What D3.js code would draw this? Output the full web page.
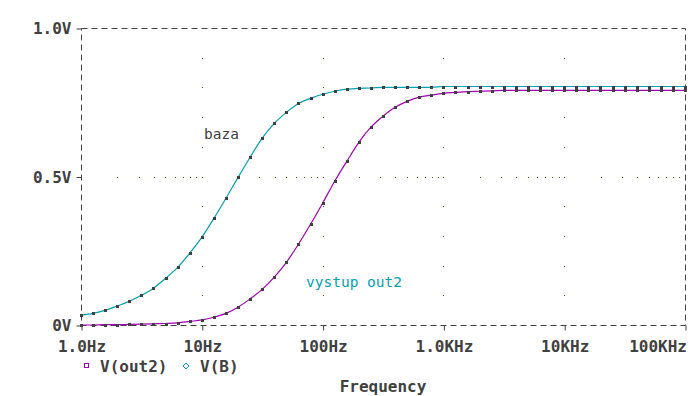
<!DOCTYPE html>
<html>
<head>
<meta charset="utf-8">
<script src="https://cdn.jsdelivr.net/npm/d3@7"></script>
<style>
body { margin: 0; background: #ffffff; }
svg { display: block; }
</style>
</head>
<body>
<script>
// frequency points (Hz), 10 per decade
var freqs = [1, 1.259, 1.585, 1.995, 2.512, 3.162, 3.981, 5.012, 6.310, 7.943,
  10, 12.59, 15.85, 19.95, 25.12, 31.62, 39.81, 50.12, 63.10, 79.43,
  100, 125.9, 158.5, 199.5, 251.2, 316.2, 398.1, 501.2, 631.0, 794.3,
  1000, 1259, 1585, 1995, 2512, 3162, 3981, 5012, 6310, 7943,
  10000, 12590, 15850, 19950, 25120, 31620, 39810, 50120, 63100, 79430,
  100000];

// V(B) - "baza"
var vB = [0.033, 0.039, 0.049, 0.064, 0.080, 0.100, 0.124, 0.157, 0.194, 0.242,
  0.295, 0.359, 0.427, 0.497, 0.565, 0.629, 0.679, 0.716, 0.746, 0.763,
  0.777, 0.787, 0.794, 0.797, 0.798, 0.800, 0.800, 0.800, 0.800, 0.800,
  0.803, 0.803, 0.803, 0.803, 0.803, 0.803, 0.803, 0.803, 0.803, 0.803,
  0.803, 0.803, 0.803, 0.803, 0.803, 0.803, 0.803, 0.803, 0.803, 0.803,
  0.803];

// V(out2) - "vystup out2"
var vOut2 = [0.000, 0.000, 0.001, 0.001, 0.002, 0.003, 0.004, 0.005, 0.007, 0.012,
  0.017, 0.026, 0.039, 0.060, 0.088, 0.120, 0.161, 0.211, 0.272, 0.339,
  0.410, 0.484, 0.551, 0.615, 0.666, 0.703, 0.733, 0.753, 0.767, 0.774,
  0.780, 0.783, 0.786, 0.787, 0.788, 0.790, 0.790, 0.790, 0.790, 0.790,
  0.790, 0.790, 0.790, 0.790, 0.790, 0.790, 0.790, 0.790, 0.790, 0.790,
  0.790];

var xTicks = [1, 10, 100, 1000, 10000, 100000];
var xTickLabels = ["1.0Hz", "10Hz", "100Hz", "1.0KHz", "10KHz", "100KHz"];
var yTicks = [0, 0.5, 1];
var yTickLabels = ["0V", "0.5V", "1.0V"];

var W = 691, H = 396;
// plot box (note: "top" is reserved on window, so use pl/pr/pt/pb)
var pl = 81, pr = 685, pt = 28, pb = 325;
var gray = "#404040";
var cyan = "#00a2b0";
var magenta = "#a400b4";
var mono = "'DejaVu Sans Mono', monospace";

var svg = d3.select("body").append("svg").attr("width", W).attr("height", H);

var x = d3.scaleLog().domain([1, 100000]).range([pl, pr]);
var y = d3.scaleLinear().domain([0, 1]).range([pb, pt]);

// dotted grid: vertical lines at inner decades, one dot every 0.1V
var grid = svg.append("g");
var gridDots = [];
[10, 100, 1000, 10000].forEach(function(f) {
  for (var v = 1; v <= 9; v++) gridDots.push([f, v / 10]);
});
// horizontal dotted line at 0.5V with a dot on every minor log tick
x.ticks().forEach(function(f) {
  if (f > 1 && f < 100000) gridDots.push([f, 0.5]);
});
grid.selectAll("rect").data(gridDots).enter().append("rect")
  .attr("x", function(d) { return Math.round(x(d[0])); })
  .attr("y", function(d) { return Math.round(y(d[1])); })
  .attr("width", 1).attr("height", 1)
  .attr("fill", "#555500");

// dashed frame
svg.append("rect")
  .attr("x", pl + 0.5).attr("y", pt + 0.5)
  .attr("width", pr - pl).attr("height", pb - pt)
  .attr("fill", "none").attr("stroke", gray).attr("stroke-width", 1)
  .attr("stroke-dasharray", "6,4");

// axes
var xAxis = d3.axisBottom(x).tickValues(xTicks)
  .tickFormat(function(d, i) { return xTickLabels[i]; })
  .tickSize(5).tickPadding(10);
var gx = svg.append("g").attr("transform", "translate(0.5," + (pb + 0.5) + ")").call(xAxis);

var yAxis = d3.axisLeft(y).tickValues(yTicks)
  .tickFormat(function(d, i) { return yTickLabels[i]; })
  .tickSize(5).tickPadding(5);
var gy = svg.append("g").attr("transform", "translate(" + (pl + 0.5) + ",0.5)").call(yAxis);

[gx, gy].forEach(function(g) {
  g.select(".domain").remove();
  g.selectAll("line").attr("stroke", gray);
  g.selectAll("text").attr("fill", gray)
    .style("font-family", mono).style("font-size", "16px").style("font-weight", "bold");
});
// last frequency label sits flush with the right edge
gx.selectAll(".tick text").filter(function(d) { return d === 100000; })
  .attr("text-anchor", "end").attr("x", 1);

// curves
var line = d3.line()
  .x(function(d, i) { return x(freqs[i]); })
  .y(function(d) { return y(d); })
  .curve(d3.curveMonotoneX);

svg.append("path").datum(vOut2).attr("d", line)
  .attr("fill", "none").attr("stroke", magenta).attr("stroke-width", 1.2);
svg.append("path").datum(vB).attr("d", line)
  .attr("fill", "none").attr("stroke", cyan).attr("stroke-width", 1.2);

// data point markers
[vOut2, vB].forEach(function(series) {
  svg.append("g").selectAll("rect").data(series).enter().append("rect")
    .attr("x", function(d, i) { return Math.round(x(freqs[i])) - 1; })
    .attr("y", function(d) { return Math.round(y(d)) - 1; })
    .attr("width", 3).attr("height", 3)
    .attr("fill", gray);
});

// curve labels
svg.append("text").attr("x", 204).attr("y", 139).text("baza")
  .attr("fill", gray).style("font-family", mono).style("font-size", "14.5px");
svg.append("text").attr("x", 306).attr("y", 287).text("vystup out2")
  .attr("fill", cyan).style("font-family", mono).style("font-size", "14.5px");

// legend
var legend = svg.append("g").style("font-family", mono).style("font-size", "16px").style("font-weight", "bold");
legend.append("rect").attr("x", 84.5).attr("y", 363.5).attr("width", 4).attr("height", 4)
  .attr("fill", "none").attr("stroke", magenta).attr("stroke-width", 1);
legend.append("text").attr("x", 100).attr("y", 372).attr("fill", gray).text("V(out2)");
legend.append("path").attr("d", "M186,363 L189,366 L186,369 L183,366 Z")
  .attr("fill", "none").attr("stroke", cyan).attr("stroke-width", 1);
legend.append("text").attr("x", 200).attr("y", 372).attr("fill", gray).text("V(B)");

// x axis title
svg.append("text").attr("x", (pl + pr) / 2).attr("y", 392).attr("text-anchor", "middle")
  .text("Frequency").attr("fill", gray)
  .style("font-family", mono).style("font-size", "16px").style("font-weight", "bold");
</script>
</body>
</html>
